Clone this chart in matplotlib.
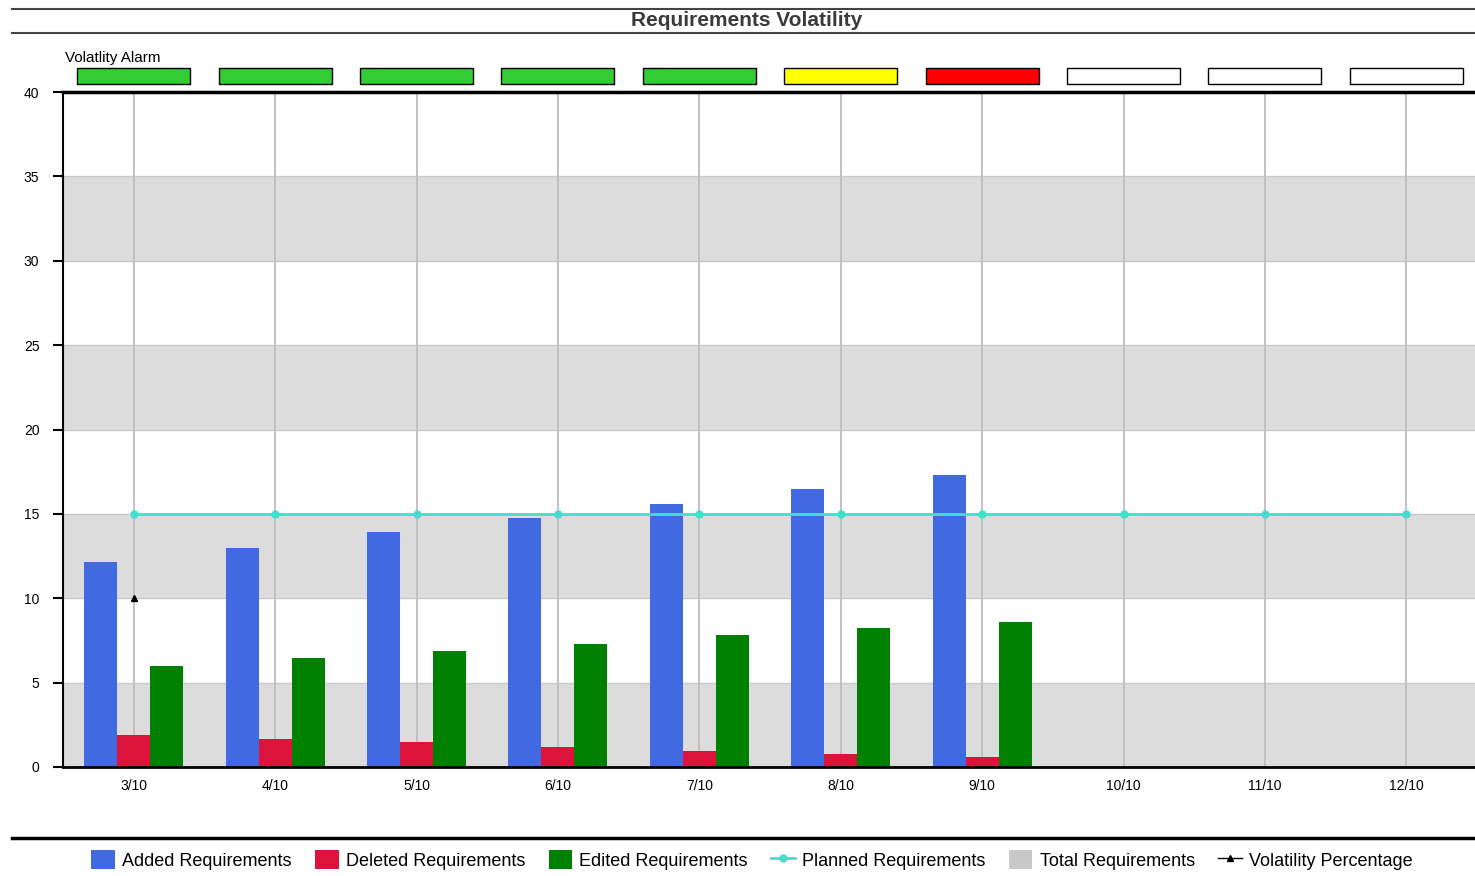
import matplotlib

matplotlib.use("Agg")
import matplotlib.pyplot as plt
from matplotlib.lines import Line2D
from matplotlib.patches import Patch, Rectangle
import numpy as np

plt.rcParams["font.family"] = ["Liberation Sans", "DejaVu Sans"]

# --- data ---
months = ["3/10", "4/10", "5/10", "6/10", "7/10", "8/10", "9/10", "10/10", "11/10", "12/10"]
added = [12.15, 13.0, 13.95, 14.75, 15.6, 16.5, 17.3]
deleted = [1.9, 1.65, 1.5, 1.2, 0.95, 0.8, 0.6]
edited = [6.0, 6.45, 6.85, 7.3, 7.8, 8.25, 8.6]
planned = [15] * 10
volatility_pct = [10]
alarm_colors = ["#33cc33"] * 5 + ["#ffff00", "#ff0000"] + ["white"] * 3

x = np.arange(len(months))
n_act = len(added)
bw = 0.233

fig = plt.figure(figsize=(14.75, 8.76), dpi=100)
ax = fig.add_axes([63 / 1475, 109 / 876, 1414 / 1475, 675 / 876])

# alternating background bands
for lo in range(0, 40, 10):
    ax.axhspan(lo, lo + 5, color="#dcdcdc", zorder=0, lw=0)
for yv in range(5, 40, 5):
    ax.axhline(yv, color="#c8c8c8", lw=1, zorder=0.5)
for xv in x:
    ax.axvline(xv, color="#bdbdbd", lw=1.3, zorder=0.6)

ax.bar(x[:n_act] - bw, added, width=bw, color="#4169e1", zorder=2)
ax.bar(x[:n_act], deleted, width=bw, color="#dc143c", zorder=2)
ax.bar(x[:n_act] + bw, edited, width=bw, color="#008000", zorder=2)
ax.plot(x, planned, color="#40e0d0", lw=2, marker="o", ms=5, zorder=3)
ax.plot(x[: len(volatility_pct)], volatility_pct, color="black", lw=1, marker="^", ms=5, zorder=3)

ax.set_xlim(-0.5, 9.5)
ax.set_ylim(0, 40)
ax.set_yticks(range(0, 41, 5))
ax.set_xticks(x)
ax.set_xticklabels(months)
ax.tick_params(axis="y", length=7, width=1.5, pad=10, labelsize=10, direction="out")
ax.tick_params(axis="x", length=0, pad=9, labelsize=10)
ax.spines["right"].set_visible(False)
ax.spines["top"].set_linewidth(2.5)
ax.spines["left"].set_linewidth(1.5)
ax.spines["bottom"].set_linewidth(2)

# volatility alarm boxes above the plot
tr = ax.get_xaxis_transform()
for xv, c in zip(x, alarm_colors):
    ax.add_patch(Rectangle((xv - 0.4, 1.012), 0.8, 0.023, transform=tr, facecolor=c,
                           edgecolor="black", lw=1, clip_on=False, zorder=5))
fig.text(65 / 1475, 1 - 58 / 876, "Volatlity Alarm", fontsize=11, va="center", ha="left")

# title band
fig.add_artist(Line2D([12 / 1475, 1], [1 - 9 / 876] * 2, color="#444444", lw=1.5))
fig.add_artist(Line2D([12 / 1475, 1], [1 - 33 / 876] * 2, color="#444444", lw=1.5))
fig.text(747 / 1475, 1 - 21 / 876, "Requirements Volatility", fontsize=15, ha="center",
         va="center", color="#3a3a3a", fontweight="semibold")
fig.add_artist(Line2D([12 / 1475, 1], [1 - 838 / 876] * 2, color="black", lw=2.5))

handles = [
    Patch(facecolor="#4169e1", label="Added Requirements"),
    Patch(facecolor="#dc143c", label="Deleted Requirements"),
    Patch(facecolor="#008000", label="Edited Requirements"),
    Line2D([], [], color="#40e0d0", lw=2, marker="o", ms=5, label="Planned Requirements"),
    Patch(facecolor="#c8c8c8", label="Total Requirements"),
    Line2D([], [], color="black", lw=1, marker="^", ms=5, label="Volatility Percentage"),
]
fig.legend(handles=handles, loc="center", bbox_to_anchor=(752 / 1475, 1 - 860 / 876), ncol=6,
           frameon=False, fontsize=13, handlelength=1.3, handleheight=1.2, columnspacing=1.3,
           handletextpad=0.4)

fig.savefig("out.png", dpi=100)
